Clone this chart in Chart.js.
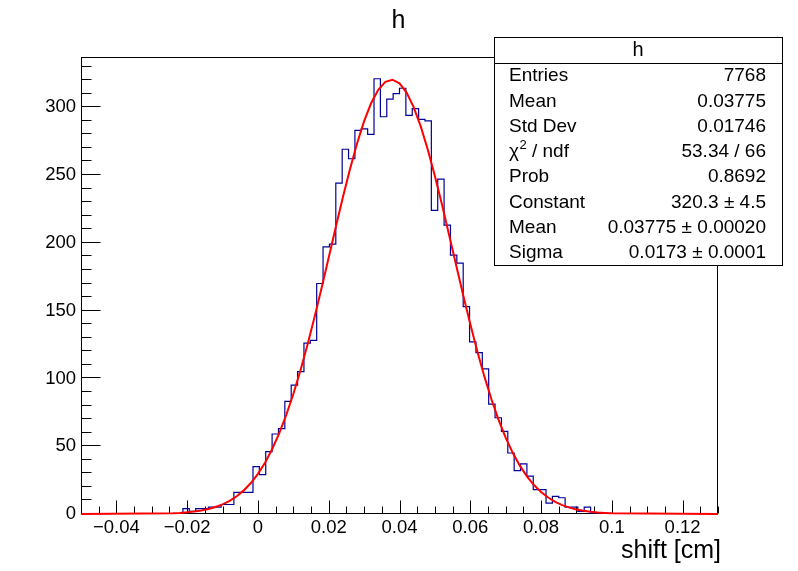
<!DOCTYPE html>
<html><head><meta charset="utf-8">
<script src="https://cdn.jsdelivr.net/npm/chart.js@4.4.0/dist/chart.umd.min.js"></script>
<style>html,body{margin:0;padding:0;background:#fff;}canvas{display:block;}</style>
</head><body>
<canvas id="c" width="798" height="571"></canvas>
<script>
// ---------- data ----------
const histTitle = 'h';
const xAxisTitle = 'shift [cm]';
const binLow = -0.05;
const binWidth = 0.0018;
const counts = [
  0,0,0,0,0,0,0,0,0,0,
  0,0,0,0,0,0,4,2,4,4,
  5,5,7,7,16,16,16,35,29,46,
  59,63,83,95,105,126,128,170,197,199,
  244,269,262,283,284,280,321,293,306,310,
  314,294,299,291,290,224,247,213,191,185,
  153,127,119,107,81,71,61,45,32,37,
  28,18,18,8,13,12,5,5,2,5,
  0,0,0,0,0,0,0,0,0,0,
  0,0,0,0,0,0,0,0,0,0
];
const fitX = [-0.05,-0.024,-0.022,-0.020,-0.018,-0.016,-0.014,-0.012,-0.010,-0.008,-0.006,-0.004,-0.002,
  0.000,0.002,0.004,0.006,0.008,0.010,0.012,0.014,0.016,0.018,0.020,0.022,0.024,0.026,0.028,0.030,
  0.032,0.034,0.036,0.038,0.040,0.042,0.044,0.046,0.048,0.050,0.052,0.054,0.056,0.058,0.060,0.062,
  0.064,0.066,0.068,0.070,0.072,0.074,0.076,0.078,0.080,0.082,0.084,0.086,0.088,0.090,0.092,0.094,
  0.096,0.098,0.100,0.13];
const fitY = [0.0,0.55,0.82,1.22,1.78,2.57,3.65,5.13,7.10,9.70,13.08,17.41,22.86,
  29.62,37.86,47.75,59.45,73.02,88.47,105.8,124.8,145.3,166.9,189.2,211.6,233.6,254.3,273.3,289.7,
  303.1,312.9,318.7,320.3,317.6,310.8,300.1,285.9,268.7,249.3,228.2,206.0,183.6,161.4,140.1,119.9,
  101.3,84.43,69.44,56.34,45.13,35.65,27.80,21.38,16.23,12.16,8.99,6.55,4.72,3.35,2.34,1.62,
  1.11,0.75,0.50,0.0];
const xTickValues = [-0.04,-0.02,0,0.02,0.04,0.06,0.08,0.1,0.12];
const xTickLabels = ['\u22120.04','\u22120.02','0','0.02','0.04','0.06','0.08','0.1','0.12'];
const yTickValues = [0,50,100,150,200,250,300];
const yTickLabels = ['0','50','100','150','200','250','300'];
const statLabels = ['Entries','Mean','Std Dev','\u03c7\u00b2 / ndf','Prob','Constant','Mean','Sigma'];
const statValues = ['7768','0.03775','0.01746','53.34 / 66','0.8692','320.3 \u00b1 4.5','0.03775 \u00b1 0.00020','0.0173 \u00b1 0.0001'];

// ---------- build ----------
const FONT = '"Liberation Sans", Arial, Helvetica, sans-serif';
const histPts = counts.map((c, i) => ({x: binLow + i * binWidth, y: c}));
histPts.push({x: binLow + counts.length * binWidth, y: counts[counts.length - 1]});
const fitPts = fitX.map((x, i) => ({x: x, y: fitY[i]}));

const rootPlugin = {
  id: 'rootStyle',
  beforeDraw(chart) {
    const ctx = chart.ctx;
    ctx.save(); ctx.fillStyle = '#fff'; ctx.fillRect(0, 0, chart.width, chart.height); ctx.restore();
  },
  beforeDatasetsDraw(chart) {
    const ctx = chart.ctx, a = chart.chartArea, sx = chart.scales.x, sy = chart.scales.y;
    ctx.save();
    ctx.strokeStyle = '#000'; ctx.lineWidth = 1;
    ctx.strokeRect(Math.round(a.left) + 0.5, Math.round(a.top) + 0.5, Math.round(a.right - a.left) - 1, Math.round(a.bottom - a.top) - 1);
    ctx.beginPath();
    for (let k = 0; k <= 36; k++) {
      const v = sx.min + k * 0.005;
      const px = Math.round(sx.getPixelForValue(v)) + 0.5;
      const major = Math.abs(v / 0.02 - Math.round(v / 0.02)) < 1e-6;
      const len = major ? 13 : 7;
      ctx.moveTo(px, a.bottom - 0.5); ctx.lineTo(px, a.bottom - 0.5 - len);
    }
    for (let v = 0; v <= sy.max; v += 10) {
      const py = Math.round(sy.getPixelForValue(v)) - 0.5;
      const len = (v % 50 === 0) ? 19 : 10;
      ctx.moveTo(a.left + 0.5, py); ctx.lineTo(a.left + 0.5 + len, py);
    }
    ctx.stroke();
    ctx.restore();
  },
  afterDraw(chart) {
    const ctx = chart.ctx;
    ctx.save();
    ctx.fillStyle = '#000';
    ctx.font = '25px ' + FONT; ctx.textAlign = 'center'; ctx.textBaseline = 'alphabetic';
    ctx.fillText(histTitle, 398.5, 28);
    ctx.font = '25px ' + FONT; ctx.textAlign = 'right';
    ctx.fillText(xAxisTitle, 721, 558);
    const bx = 494, by = 37, bw = 288, bh = 228, hh = 26;
    ctx.fillStyle = '#fff'; ctx.fillRect(bx, by, bw, bh);
    ctx.strokeStyle = '#000'; ctx.lineWidth = 1;
    ctx.strokeRect(bx + 0.5, by + 0.5, bw, bh);
    ctx.beginPath(); ctx.moveTo(bx, by + hh + 0.5); ctx.lineTo(bx + bw, by + hh + 0.5); ctx.stroke();
    ctx.fillStyle = '#000';
    ctx.font = '20px ' + FONT; ctx.textAlign = 'center'; ctx.textBaseline = 'middle';
    ctx.fillText(histTitle, bx + bw / 2, by + 13);
    const rowH = (bh - hh) / statLabels.length;
    const SF = '19px ' + FONT;
    ctx.font = SF;
    statLabels.forEach((lab, i) => {
      const cy = by + hh + rowH * (i + 0.5) + 0.5;
      ctx.textAlign = 'left';
      if (lab.indexOf('\u00b2') >= 0) {
        const parts = lab.split('\u00b2');
        let x = 509;
        ctx.font = SF; ctx.fillText(parts[0], x, cy);
        x += ctx.measureText(parts[0]).width;
        ctx.font = '13px ' + FONT; ctx.fillText('2', x + 0.5, cy - 6);
        x += ctx.measureText('2').width + 0.5;
        ctx.font = SF; ctx.fillText(parts[1], x, cy);
      } else {
        ctx.fillText(lab, 509, cy);
      }
      ctx.textAlign = 'right';
      ctx.fillText(statValues[i], 766, cy);
    });
    ctx.restore();
  }
};

new Chart(document.getElementById('c'), {
  type: 'scatter',
  data: {
    datasets: [
      {label: 'fit', data: fitPts, showLine: true, borderColor: '#ff0000', borderWidth: 2,
       pointRadius: 0, tension: 0, clip: false, order: 0},
      {label: 'h', data: histPts, showLine: true, stepped: 'before', borderColor: '#000099', borderWidth: 1.2,
       pointRadius: 0, order: 1}
    ]
  },
  options: {
    responsive: false, animation: false, devicePixelRatio: 1,
    layout: {padding: {left: 0, top: 57, right: 80, bottom: 0}},
    plugins: {legend: {display: false}, tooltip: {enabled: false}, title: {display: false}},
    scales: {
      x: {
        type: 'linear', min: binLow, max: binLow + counts.length * binWidth,
        grid: {display: false, drawTicks: false}, border: {display: false},
        afterBuildTicks: s => { s.ticks = xTickValues.map(v => ({value: v})); },
        afterFit: s => { s.height = 57; },
        ticks: {font: {family: FONT, size: 18.5}, color: '#000', padding: 3, maxRotation: 0, minRotation: 0,
                autoSkip: false, callback: (v, i) => xTickLabels[i]}
      },
      y: {
        type: 'linear', min: 0, max: 337.05,
        grid: {display: false, drawTicks: false}, border: {display: false},
        afterBuildTicks: s => { s.ticks = yTickValues.map(v => ({value: v})); },
        afterFit: s => { s.width = 81; },
        ticks: {font: {family: FONT, size: 18.5}, color: '#000', padding: 5, autoSkip: false,
                callback: (v, i) => yTickLabels[i]}
      }
    }
  },
  plugins: [rootPlugin]
});
</script>
</body></html>
